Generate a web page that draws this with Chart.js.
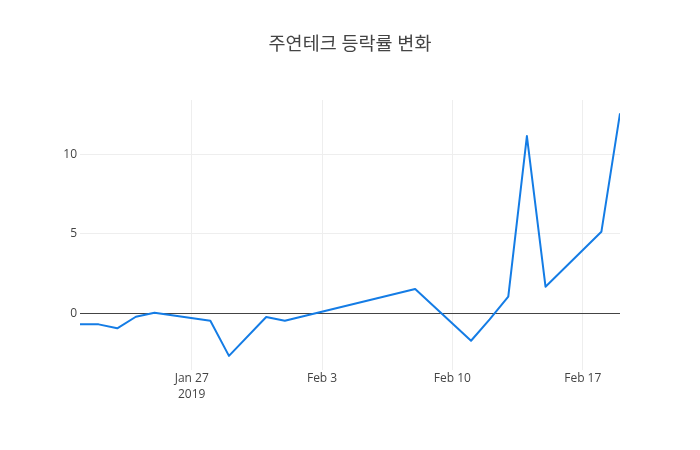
<!DOCTYPE html>
<html>
<head>
<meta charset="utf-8">
<script src="https://cdn.jsdelivr.net/npm/chart.js@4/dist/chart.umd.min.js"></script>
<style>
html,body{margin:0;padding:0;background:#fff;}
#wrap{width:700px;height:450px;position:relative;}
</style>
</head>
<body>
<div id="wrap"><canvas id="c" width="700" height="450"></canvas></div>
<script>
const TITLE = '주연테크 등락률 변화';
const dates = ['2019-01-21','2019-01-22','2019-01-23','2019-01-24','2019-01-25','2019-01-28','2019-01-29','2019-01-31','2019-02-01','2019-02-08','2019-02-11','2019-02-12','2019-02-13','2019-02-14','2019-02-15','2019-02-18','2019-02-19'];
const rates = [-0.69,-0.69,-0.94,-0.21,0.04,-0.46,-2.67,-0.23,-0.46,1.53,-1.72,-0.38,1.05,11.15,1.68,5.13,12.58];
const xTickDates = ['2019-01-27','2019-02-03','2019-02-10','2019-02-17'];
const xTickLabels = [['Jan 27','2019'],['Feb 3'],['Feb 10'],['Feb 17']];
const yTicks = [0,5,10];

const DAY = 86400000;
const toDay = s => Date.parse(s + 'T00:00:00Z') / DAY;
const points = dates.map((d,i) => ({x: toDay(d), y: rates[i]}));
const xTickVals = xTickDates.map(toDay);

const FONT = '"Open Sans", "Noto Sans CJK KR", sans-serif';

new Chart(document.getElementById('c'), {
  type: 'line',
  data: {
    datasets: [{
      data: points,
      borderColor: 'rgb(20,124,229)',
      borderWidth: 2,
      borderJoinStyle: 'round',
      pointRadius: 0,
      tension: 0,
      fill: false
    }]
  },
  options: {
    responsive: false,
    animation: false,
    events: [],
    layout: {padding: {left: 0, right: 0, top: 0, bottom: 0}},
    plugins: {
      legend: {display: false},
      tooltip: {enabled: false},
      title: {
        display: true,
        text: TITLE,
        color: '#444',
        font: {family: FONT, size: 18.5, weight: 'normal', lineHeight: 1.2},
        padding: {top: 33.5, bottom: 44.3}
      }
    },
    scales: {
      x: {
        type: 'linear',
        min: toDay(dates[0]),
        max: toDay(dates[dates.length-1]),
        afterFit: s => { s.height = 80; },
        afterBuildTicks: s => { s.ticks = xTickVals.map(v => ({value: v})); },
        ticks: {
          autoSkip: false,
          maxRotation: 0,
          padding: 1,
          color: '#444',
          font: {family: FONT, size: 12, lineHeight: 1.3},
          callback: (v) => { const i = xTickVals.indexOf(v); return i >= 0 ? xTickLabels[i] : ''; }
        },
        grid: {color: '#eee', drawTicks: false, lineWidth: 1},
        border: {display: false}
      },
      y: {
        type: 'linear',
        position: 'left',
        min: -3.56,
        max: 13.42,
        afterFit: s => { s.width = 80; },
        afterBuildTicks: s => { s.ticks = yTicks.map(v => ({value: v})); },
        ticks: {
          padding: 3,
          color: '#444',
          font: {family: FONT, size: 12},
          callback: v => String(v)
        },
        grid: {
          drawTicks: false,
          color: c => (c.tick && c.tick.value === 0) ? '#444' : '#eee',
          lineWidth: 1
        },
        border: {display: false}
      },
      yRight: {
        type: 'linear',
        position: 'right',
        min: -3.56,
        max: 13.42,
        afterFit: s => { s.width = 80; },
        ticks: {display: false},
        grid: {display: false, drawTicks: false},
        border: {display: false}
      }
    }
  }
});
</script>
</body>
</html>
